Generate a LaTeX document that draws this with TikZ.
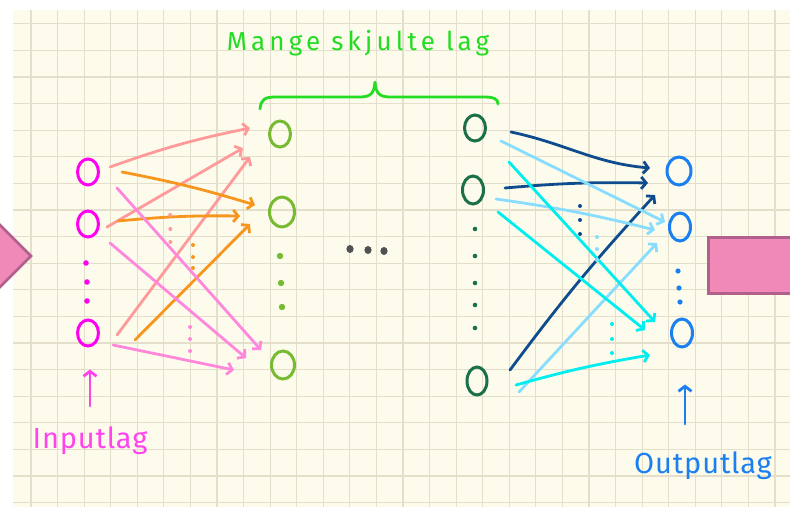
\documentclass[tikz,border=0pt]{standalone}
\usepackage{fontspec}
\newfontfamily\hand[LetterSpace=3]{Fira Sans}
\newfontfamily\handwide[LetterSpace=16]{Fira Sans}
\usetikzlibrary{arrows.meta,calc,shapes.geometric}
\definecolor{paper}{HTML}{FDFBEC}
\definecolor{gridc}{HTML}{E3DFCB}
\definecolor{inC}{HTML}{FF00F0}
\definecolor{inlab}{HTML}{FF44EE}
\definecolor{salmonC}{HTML}{FF9A9A}
\definecolor{orangeC}{HTML}{F7961E}
\definecolor{pinkC}{HTML}{FF88DD}
\definecolor{hidC}{HTML}{77BB33}
\definecolor{braceC}{HTML}{22DD22}
\definecolor{deepC}{HTML}{1A7048}
\definecolor{navyC}{HTML}{0E4C8E}
\definecolor{skyC}{HTML}{88DDFF}
\definecolor{cyanC}{HTML}{00EEEE}
\definecolor{outC}{HTML}{1A7FF0}
\definecolor{boxC}{HTML}{F088B8}
\definecolor{boxE}{HTML}{B0608A}
\tikzset{
  neuron/.style={ellipse,draw=#1,line width=3pt,inner sep=0pt,minimum width=21pt,minimum height=26pt},
  syn/.style={draw=#1,line width=2.8pt,line cap=round,-{Straight Barb[length=5pt,width=12pt]}},
  uparr/.style={draw=#1,line width=2.8pt,line cap=round,-{Straight Barb[length=5pt,width=13pt]}},
}
\begin{document}
\begin{tikzpicture}[x=1pt,y=-1pt]
\useasboundingbox (0,0) rectangle (790,509);
% paper
\fill[paper] (13,10) rectangle (790,507);
\foreach \k in {0,...,28} {\draw[gridc,line width=1.2pt] (31+26.57*\k,10) -- (31+26.57*\k,507);}
\foreach \k in {0,...,18} {\draw[gridc,line width=1.2pt] (13,23.8+26.6*\k) -- (790,23.8+26.6*\k);}
% pink blocks
\draw[boxE,fill=boxC,line width=2.8pt,line join=miter] (-5,220) -- (31,256) -- (-5,292);
\draw[boxE,fill=boxC,line width=3.8pt] (708.5,237.5) rectangle (795,293.5);
% layers
\node[neuron=inC] (i1) at (88,172) {};
\node[neuron=inC] (i2) at (88,224) {};
\node[neuron=inC] (i3) at (88,333) {};
\node[neuron=hidC] (h1) at (280,134) {};
\node[neuron=hidC,minimum width=25pt,minimum height=30pt] (h2) at (282,212) {};
\node[neuron=hidC,minimum width=23pt,minimum height=28pt] (h3) at (283,365) {};
\node[neuron=deepC] (l1) at (475,128) {};
\node[neuron=deepC,minimum height=28pt] (l2) at (473,190) {};
\node[neuron=deepC,minimum width=20pt,minimum height=28pt] (l3) at (477,381) {};
\node[neuron=outC,minimum width=24pt,minimum height=28pt] (o1) at (679,171) {};
\node[neuron=outC,minimum height=28pt] (o2) at (680,227) {};
\node[neuron=outC,minimum height=28pt] (o3) at (682,333) {};
\foreach \xx/\yy in {86/263,87/282,87/301} {\fill[inC] (\xx,\yy) circle (2.8);}
\foreach \xx/\yy in {280/256,281/283,282/307} {\fill[hidC] (\xx,\yy) circle (3.2);}
\foreach \yy in {229,256,283,305,328} {\fill[deepC] (475,\yy) circle (2.3);}
\foreach \xx/\yy in {678/271,679/288,680/302} {\fill[outC] (\xx,\yy) circle (2.6);}
\foreach \xx/\yy in {350/249,368/250,384/251} {\fill[black!68] (\xx,\yy) ellipse (3.6 and 4);}
% input -> first hidden
\draw[syn=salmonC] ($(i1)+(22,-5)$) to[bend left=4] ($(h1)+(-30,-6)$);
\draw[syn=salmonC] ($(i2)+(19,3)$) -- ($(h1)+(-37,14)$);
\draw[syn=salmonC] ($(i3)+(29,2)$) -- ($(h1)+(-30,23)$);
\draw[syn=orangeC] ($(i1)+(34,0)$) to[bend left=3] ($(h2)+(-27,-7)$);
\draw[syn=orangeC] ($(i2)+(30,-3)$) to[bend left=3] ($(h2)+(-42,4)$);
\draw[syn=orangeC] ($(i3)+(47,7)$) -- ($(h2)+(-32,12)$);
\draw[syn=pinkC] ($(i1)+(29,16)$) -- ($(h3)+(-22,-15)$);
\draw[syn=pinkC] ($(i2)+(22,19)$) -- ($(h3)+(-37,-7)$);
\draw[syn=pinkC] ($(i3)+(25,12)$) -- ($(h3)+(-49,5)$);
\foreach \yy in {215,229,242} {\fill[salmonC] (168+\yy/100,\yy) circle (2);}
\foreach \yy in {245,257,268} {\fill[orangeC] (193,\yy) circle (2);}
\foreach \yy in {327,339,351} {\fill[pinkC] (190,\yy) circle (2);}
% last hidden -> output
\draw[syn=navyC] ($(l1)+(36,4)$) to[out=-12,in=175] ($(o1)+(-29,-3)$);
\draw[syn=navyC] ($(l2)+(32,-2)$) to[bend left=3] ($(o1)+(-31,12)$);
\draw[syn=navyC] ($(l3)+(33,-11)$) to[bend left=3] ($(o1)+(-24,24)$);
\draw[syn=skyC] ($(l1)+(26,13)$) -- ($(o2)+(-15,-5)$);
\draw[syn=skyC] ($(l2)+(23,9)$) to[bend left=3] ($(o2)+(-25,3)$);
\draw[syn=skyC] ($(l3)+(42,11)$) -- ($(o2)+(-23,16)$);
\draw[syn=cyanC] ($(l1)+(34,34)$) -- ($(o3)+(-27,-11)$);
\draw[syn=cyanC] ($(l2)+(25,22)$) -- ($(o3)+(-37,-3)$);
\draw[syn=cyanC] ($(l3)+(39,4)$) to[bend left=3] ($(o3)+(-32,22)$);
\foreach \yy in {206,220,234} {\fill[navyC] (580,\yy) circle (2);}
\foreach \yy in {237,249,260} {\fill[skyC] (597,\yy) circle (2);}
\foreach \yy in {324,339,353} {\fill[cyanC] (612,\yy) circle (2);}
% labels
\node[anchor=base,inner sep=0pt,text=braceC,font=\handwide\fontsize{26}{30}\selectfont] (hlab) at (358,50) {Mange skjulte lag};
\draw[braceC,line width=2.8pt,line cap=round,line join=round] (260,109) .. controls (261,99) and (265,97) .. (276,97) -- (360,97) .. controls (371,97) and (374,93) .. (375,82) .. controls (376,93) and (379,97) .. (390,97) -- (484,97) .. controls (494,97) and (498,99) .. (498,104);
\node[anchor=base,inner sep=0pt,text=inlab,font=\hand\fontsize{29}{34}\selectfont] (ilab) at (90,448) {Inputlag};
\node[anchor=base,inner sep=0pt,text=outC,font=\hand\fontsize{29}{34}\selectfont] (olab) at (703,473) {Outputlag};
\coordinate (ia) at ($(ilab.north)+(0,-20)$);
\draw[uparr=inlab] (ia) -- ($(i3.south)+(2,22)$);
\draw[uparr=outC] ($(olab.north)+(-18,-27)$) coordinate (oa) -- ($(o3.south)+(3,36)$);
\end{tikzpicture}
\end{document}
